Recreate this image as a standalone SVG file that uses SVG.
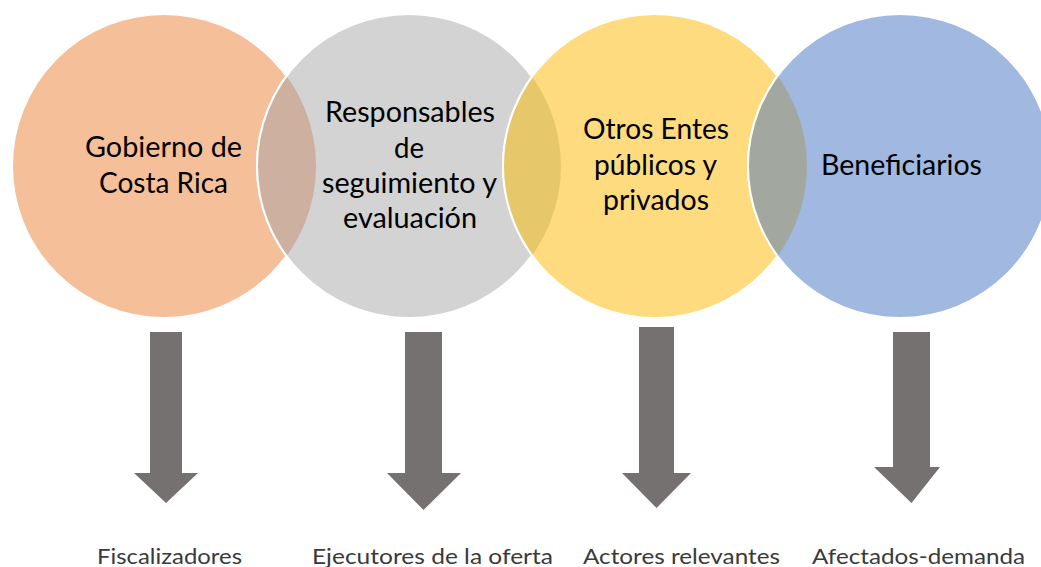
<svg xmlns="http://www.w3.org/2000/svg" width="1041" height="567" viewBox="0 0 1041 567">
<style>
.c{stroke:#fff;stroke-width:2}
.t{font-family:Lato,"Open Sans","Liberation Sans",sans-serif;font-size:28px;fill:#000;text-anchor:middle}
.b{font-family:Lato,"Open Sans","Liberation Sans",sans-serif;font-size:22px;fill:#3a3a3a;text-anchor:middle}
.a{fill:#767171}
</style>
<defs>
<clipPath id="k1"><circle cx="164" cy="166" r="152"/></clipPath>
<clipPath id="k2"><circle cx="409" cy="166" r="152"/></clipPath>
<clipPath id="k3"><circle cx="655" cy="166" r="152"/></clipPath>
</defs>
<rect width="1041" height="567" fill="#fff"/>
<g id="n1">
<circle class="c" cx="164" cy="166" r="152" fill="#F5BF99"/>
<text class="t" x="163.5" y="157" textLength="157" lengthAdjust="spacingAndGlyphs">Gobierno de</text>
<text class="t" x="163.5" y="193" textLength="129" lengthAdjust="spacingAndGlyphs">Costa Rica</text>
</g>
<g id="n2">
<circle class="c" cx="409" cy="166" r="152" fill="#D3D3D3"/>
<circle class="c" cx="409" cy="166" r="152" fill="#CDB09F" clip-path="url(#k1)"/>
<text class="t" x="410" y="122" textLength="170" lengthAdjust="spacingAndGlyphs">Responsables</text>
<text class="t" x="409" y="157.5" textLength="30" lengthAdjust="spacingAndGlyphs">de</text>
<text class="t" x="409.5" y="193" textLength="175" lengthAdjust="spacingAndGlyphs">seguimiento y</text>
<text class="t" x="410" y="228" textLength="134" lengthAdjust="spacingAndGlyphs">evaluación</text>
</g>
<g id="n3">
<circle class="c" cx="655" cy="166" r="152" fill="#FEDB7E"/>
<circle class="c" cx="655" cy="166" r="152" fill="#E6C86B" clip-path="url(#k2)"/>
<text class="t" x="656" y="139" textLength="146" lengthAdjust="spacingAndGlyphs">Otros Entes</text>
<text class="t" x="655.5" y="175" textLength="123" lengthAdjust="spacingAndGlyphs">públicos y</text>
<text class="t" x="656" y="210" textLength="106" lengthAdjust="spacingAndGlyphs">privados</text>
</g>
<g id="n4">
<circle class="c" cx="900" cy="166" r="152" fill="#A1B8E0"/>
<circle class="c" cx="900" cy="166" r="152" fill="#A2A8A0" clip-path="url(#k3)"/>
<text class="t" x="901.5" y="175" textLength="161" lengthAdjust="spacingAndGlyphs">Beneficiarios</text>
</g>
<g id="connectors">
<polygon class="a" points="150,332 182,332 182,473 198,473 166,503 134,473 150,473"/>
<polygon class="a" points="405,332 442,332 442,473 461,473 423.5,510 387,473 405,473"/>
<polygon class="a" points="639,327 674,327 674,473 691,473 656.5,508 622,473 639,473"/>
<polygon class="a" points="893,332 930,332 930,467 940,467 911.5,503 874,467 893,467"/>
</g>
<g id="labels">
<text class="b" x="169.5" y="564" textLength="145" lengthAdjust="spacingAndGlyphs">Fiscalizadores</text>
<text class="b" x="432.5" y="564" textLength="241" lengthAdjust="spacingAndGlyphs">Ejecutores de la oferta</text>
<text class="b" x="681.5" y="564" textLength="197" lengthAdjust="spacingAndGlyphs">Actores relevantes</text>
<text class="b" x="918.5" y="564" textLength="213" lengthAdjust="spacingAndGlyphs">Afectados-demanda</text>
</g>
</svg>
